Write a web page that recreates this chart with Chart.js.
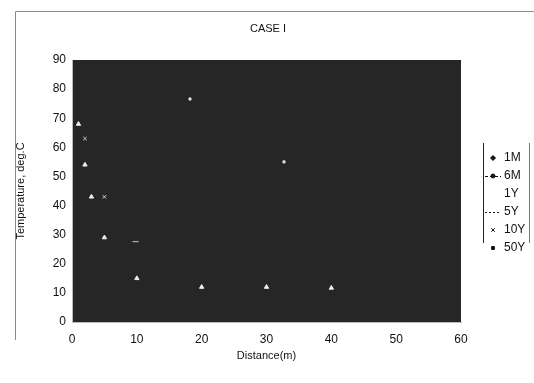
<!DOCTYPE html>
<html lang="en">
<head>
    <meta charset="UTF-8">
    <title>CASE I</title>
    <script src="https://cdn.jsdelivr.net/npm/chart.js"></script>
    <style>
        html, body { margin: 0; padding: 0; background: #fff; }
        #wrap { width: 534px; height: 383px; position: relative; }
    </style>
</head>
<body>
    <div id="wrap"><canvas id="chart" width="534" height="383"></canvas></div>

    <script>
        // Series names (legend order)
        const seriesNames = ['1M', '6M', '1Y', '5Y', '10Y', '50Y'];

        // Distance (m) / temperature (deg.C) per series
        const dist1M = [1, 2, 3, 5, 10, 20, 30, 40];
        const temp1M = [68, 54, 43, 29, 15, 12, 12, 11.7];
        const dist6M = [9.8];
        const temp6M = [27.6];
        const dist1Y = [];
        const temp1Y = [];
        const dist5Y = [];
        const temp5Y = [];
        const dist10Y = [2, 5];
        const temp10Y = [63, 43];
        const dist50Y = [18.2, 32.7];
        const temp50Y = [76.6, 55];

        const xTicks = [0, 10, 20, 30, 40, 50, 60];
        const yTicks = [0, 10, 20, 30, 40, 50, 60, 70, 80, 90];

        function toPoints(xs, ys) {
            return xs.map((x, i) => ({ x: x, y: ys[i] }));
        }

        const FONT = 'Liberation Sans, Arial, sans-serif';

        // legend sample styles
        const legendStyle = [
            { marker: 'rectRot', size: 2.5, line: false },
            { marker: 'circle', size: 2, line: true, dash: [3, 2] },
            { marker: null, line: false },
            { marker: null, line: true, dash: [2, 2] },
            { marker: 'crossRot', size: 2.5, line: false },
            { marker: 'rect', size: 2, line: false }
        ];

        const framePlugin = {
            id: 'frame',
            beforeDraw(chart) {
                const c = chart.ctx, a = chart.chartArea;
                c.save();
                c.fillStyle = '#262626';
                c.fillRect(a.left, a.top, a.right - a.left, a.bottom - a.top);
                c.restore();
            },
            afterDraw(chart) {
                const c = chart.ctx;
                c.save();
                // outer page frame
                c.strokeStyle = '#8a8a8a';
                c.lineWidth = 1;
                c.beginPath();
                c.moveTo(15.5, 340);
                c.lineTo(15.5, 11.5);
                c.lineTo(534, 11.5);
                c.stroke();
                // title
                c.fillStyle = '#111';
                c.font = '11px ' + FONT;
                c.textAlign = 'center';
                c.textBaseline = 'middle';
                c.fillText('CASE I', 268, 29);
                // legend box
                c.strokeStyle = '#222';
                c.beginPath();
                c.moveTo(483.5, 143);
                c.lineTo(483.5, 243);
                c.stroke();
                c.strokeStyle = '#777';
                c.beginPath();
                c.moveTo(529.5, 143);
                c.lineTo(529.5, 243);
                c.stroke();
                c.textAlign = 'left';
                c.font = '12px ' + FONT;
                seriesNames.forEach((name, i) => {
                    const y = 158 + i * 18;
                    const s = legendStyle[i];
                    c.strokeStyle = '#111';
                    c.fillStyle = '#111';
                    if (s.line) {
                        c.setLineDash(s.dash);
                        c.beginPath();
                        c.moveTo(485, y + 0.5);
                        c.lineTo(501, y + 0.5);
                        c.stroke();
                        c.setLineDash([]);
                    }
                    if (s.marker) {
                        Chart.helpers.drawPoint(c, {
                            pointStyle: s.marker, radius: s.size, borderWidth: 1
                        }, 493, y);
                    }
                    c.fillText(name, 504, y);
                });
                c.restore();
            }
        };

        const pointColors = ['#eeeeee', '#c8c8c8', '#c8c8c8', '#c8c8c8', '#cfcfcf', '#dddddd'];
        const pointShapes = ['triangle', 'line', 'circle', 'circle', 'crossRot', 'rect'];
        const pointSizes = [2.5, 3, 2, 2, 2.5, 1.5];
        const seriesData = [
            toPoints(dist1M, temp1M), toPoints(dist6M, temp6M), toPoints(dist1Y, temp1Y),
            toPoints(dist5Y, temp5Y), toPoints(dist10Y, temp10Y), toPoints(dist50Y, temp50Y)
        ];

        new Chart(document.getElementById('chart'), {
            type: 'scatter',
            data: {
                datasets: seriesNames.map((name, i) => ({
                    label: name,
                    data: seriesData[i],
                    showLine: false,
                    pointStyle: pointShapes[i],
                    pointRadius: pointSizes[i],
                    pointBackgroundColor: pointColors[i],
                    pointBorderColor: pointColors[i],
                    pointBorderWidth: 1
                }))
            },
            options: {
                responsive: false,
                animation: false,
                layout: { padding: { left: 10, right: 73, top: 60, bottom: 16 } },
                plugins: {
                    legend: { display: false },
                    title: { display: false },
                    tooltip: { enabled: false }
                },
                scales: {
                    x: {
                        type: 'linear',
                        min: 0, max: 60,
                        afterBuildTicks(axis) { axis.ticks = xTicks.map(v => ({ value: v })); },
                        afterFit(axis) { axis.height = 45; },
                        grid: { display: false, drawTicks: false },
                        border: { color: '#bbb' },
                        ticks: { color: '#111', font: { family: FONT, size: 12 }, padding: 10 },
                        title: { display: true, text: 'Distance(m)', color: '#111', font: { family: FONT, size: 11 }, padding: { top: 2 } }
                    },
                    y: {
                        type: 'linear',
                        min: 0, max: 90,
                        afterBuildTicks(axis) { axis.ticks = yTicks.map(v => ({ value: v })); },
                        afterFit(axis) { axis.width = 62; },
                        grid: { display: false, drawTicks: false },
                        border: { color: '#bbb' },
                        ticks: { color: '#111', font: { family: FONT, size: 12 }, padding: 6 },
                        title: { display: true, text: 'Temperature, deg.C', color: '#111', font: { family: FONT, size: 11 } }
                    }
                }
            },
            plugins: [framePlugin]
        });
    </script>
</body>
</html>
